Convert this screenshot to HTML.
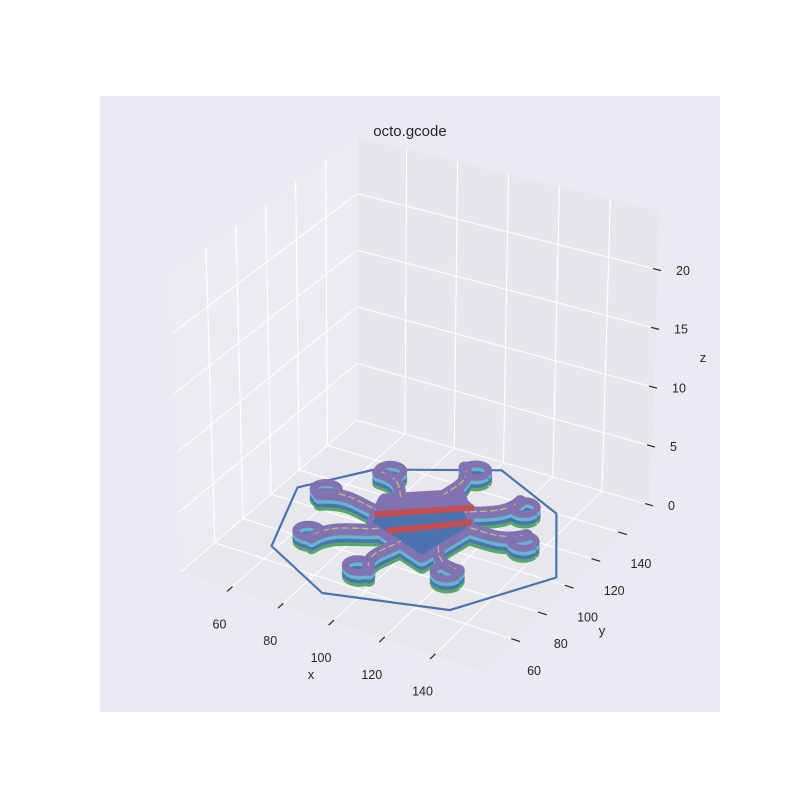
<!DOCTYPE html>
<html><head><meta charset="utf-8"><style>
html,body{margin:0;padding:0;background:#fff;}
svg{display:block;font-family:"Liberation Sans",sans-serif;}
</style></head><body>
<svg id="chart" width="800" height="800" viewBox="0 0 800 800" xmlns="http://www.w3.org/2000/svg">
<rect x="0" y="0" width="800" height="800" fill="#ffffff"/>
<rect x="100" y="96" width="620" height="616" fill="#eaeaf2"/>
<g id="panes"></g>
<g id="grid"></g>
<g id="ticks"></g>
<g id="model"></g>
<text x="410" y="136" font-size="15" text-anchor="middle" fill="#262626">octo.gcode</text>
<text x="311" y="679" font-size="13" text-anchor="middle" fill="#262626">x</text>
<text x="602" y="635" font-size="13" text-anchor="middle" fill="#262626">y</text>
<text x="703" y="362" font-size="13" text-anchor="middle" fill="#262626">z</text>
</svg>
<script>
// ---- data ----
const xTicks = [60, 80, 100, 120, 140];
const yTicks = [60, 80, 100, 120, 140];
const zTicks = [0, 5, 10, 15, 20];
const xRange = [40.5, 159.5];
const yRange = [36, 161];
const zRange = [0, 25];
// skirt outline (mm)
const skirtX = [58, 88, 131, 153, 133, 102, 63, 46];
const skirtY = [69, 51, 65, 103, 140, 156, 134, 109];
// tentacle curl centers (mm)
const curlX = [71.8, 97.6, 124.5, 135, 121.5, 93.4, 67.6, 58.7];
const curlY = [129.7, 145, 131.7, 111.6, 80, 67.5, 78.7, 107];
// body outline (mm)
const bodyX = [80, 101, 114, 109, 84];
const bodyY = [111, 127, 110, 85, 95];
// layer heights (mm) and colours
const layerZ = [0, 0.3, 0.6, 0.9];
const layerColor = ['#55a868', '#4c72b0', '#64b5cd', '#8172b2'];
// red stripes on body top (mm)
const stripeX0 = [81.8, 91], stripeY0 = [100, 92.5], stripeX1 = [109.5, 113.6], stripeY1 = [122, 113];

// ---- projection ----
const FL=[181,572], FF=[483,672], FR=[650,505], FB=[357,420];
const TL=[170,274], TF=[485,358], TR=[660,211], TB=[357,137];
function bil(c00,c10,c11,c01,u,v){
  return [c00[0]*(1-u)*(1-v)+c10[0]*u*(1-v)+c11[0]*u*v+c01[0]*(1-u)*v,
          c00[1]*(1-u)*(1-v)+c10[1]*u*(1-v)+c11[1]*u*v+c01[1]*(1-u)*v];
}
function P(x,y,z){
  const u=(x-xRange[0])/(xRange[1]-xRange[0]);
  const v=(y-yRange[0])/(yRange[1]-yRange[0]);
  const w=(z-zRange[0])/(zRange[1]-zRange[0]);
  const a=bil(FL,FF,FR,FB,u,v), b=bil(TL,TF,TR,TB,u,v);
  return [a[0]+(b[0]-a[0])*w, a[1]+(b[1]-a[1])*w];
}
const NS='http://www.w3.org/2000/svg';
function mk(tag, parent, attrs){
  const e=document.createElementNS(NS,tag);
  for(const k in attrs) e.setAttribute(k, attrs[k]);
  parent.appendChild(e); return e;
}
function pts(arr){return arr.map(p=>p[0].toFixed(1)+','+p[1].toFixed(1)).join(' ');}
const X0=xRange[0],X1=xRange[1],Y0=yRange[0],Y1=yRange[1],Z0=zRange[0],Z1=zRange[1];

// panes
const panes=document.getElementById('panes');
let e;
e=mk('polygon',panes,{points:pts([P(X0,Y0,Z0),P(X0,Y1,Z0),P(X0,Y1,Z1),P(X0,Y0,Z1)]),fill:'#ececf0'});


e=mk('polygon',panes,{points:pts([P(X0,Y1,Z0),P(X1,Y1,Z0),P(X1,Y1,Z1),P(X0,Y1,Z1)]),fill:'#e6e6eb'});


e=mk('polygon',panes,{points:pts([P(X0,Y0,Z0),P(X1,Y0,Z0),P(X1,Y1,Z0),P(X0,Y1,Z0)]),fill:'#e8e8ec'});



// grid
const grid=document.getElementById('grid');
function gl(a,b,name){
  const l=mk('line',grid,{x1:a[0],y1:a[1],x2:b[0],y2:b[1],stroke:'#ffffff','stroke-width':1.1});
  
  
}
xTicks.forEach(x=>{gl(P(x,Y0,Z0),P(x,Y1,Z0),'floor-gridline-x');gl(P(x,Y1,Z0),P(x,Y1,Z1),'back-gridline-x');});
yTicks.forEach(y=>{gl(P(X0,y,Z0),P(X1,y,Z0),'floor-gridline-y');gl(P(X0,y,Z0),P(X0,y,Z1),'left-gridline-y');});
zTicks.forEach(z=>{gl(P(X0,Y0,z),P(X0,Y1,z),'left-gridline-z');gl(P(X0,Y1,z),P(X1,Y1,z),'back-gridline-z');});

// ticks
const tk=document.getElementById('ticks');
function tl(a,b,name){
  const l=mk('line',tk,{x1:a[0],y1:a[1],x2:b[0],y2:b[1],stroke:'#262626','stroke-width':1.2});
  
  
}
function tt(x,y,s,name,anchor){
  const t=mk('text',tk,{x:x,y:y,'font-size':12.5,fill:'#262626','text-anchor':anchor||'middle'});
  t.textContent=s;
  
  
}
xTicks.forEach(x=>{
  const c=P(x,Y0,Z0);
  tl(P(x,Y0+1.5,Z0),P(x,Y0-2.5,Z0),'x-tick');
  tt(c[0]-11,c[1]+40,String(x),'x-tick-label');
});
yTicks.forEach(y=>{
  const c=P(X1,y,Z0);
  tl(P(X1-1.5,y,Z0),P(X1+2,y,Z0),'y-tick');
  tt(c[0]+19,c[1]+35,String(y),'y-tick-label');
});
zTicks.forEach(z=>{
  const c=P(X1,Y1,z);
  tl(P(X1-2,Y1,z),P(X1+1.2,Y1,z),'z-tick');
  tt(c[0]+18,c[1]+5,String(z),'z-tick-label','start');
});

// model
const model=document.getElementById('model');
const cx=98, cy=104;
function tentPath(i,z){
  const sx=cx+(curlX[i]-cx)*0.2, sy=cy+(curlY[i]-cy)*0.2;
  const dx0=curlX[i]-sx, dy0=curlY[i]-sy, L=Math.hypot(dx0,dy0);
  const nx=-dy0/L, ny=dx0/L;
  const ex=curlX[i]+nx*4.5, ey=curlY[i]+ny*4.5;
  const c1x=sx+dx0*0.35+nx*7, c1y=sy+dy0*0.35+ny*7;
  const c2x=sx+dx0*0.65-nx*6, c2y=sy+dy0*0.65-ny*6;
  const a=P(sx,sy,z), q1=P(c1x,c1y,z), q2=P(c2x,c2y,z), b=P(ex,ey,z);
  const f=p=>p[0].toFixed(1)+','+p[1].toFixed(1);
  return 'M'+f(a)+' C'+f(q1)+' '+f(q2)+' '+f(b);
}
function ring(i,z,r){
  const p=[];
  for(let k=0;k<=24;k++){const t=k/24*2*Math.PI;p.push(P(curlX[i]+r*Math.cos(t),curlY[i]+r*Math.sin(t),z));}
  return p;
}
// skirt
e=mk('polygon',model,{points:pts(skirtX.map((x,i)=>P(x,skirtY[i],0))),fill:'none',stroke:'#4c72b0','stroke-width':2.2,'stroke-linejoin':'round'});



layerZ.forEach((z,li)=>{
  const g=mk('g',model,{});
  
  
  const col=layerColor[li];
  curlX.forEach((_,i)=>{
    const p=mk('path',g,{d:tentPath(i,z),fill:'none',stroke:col,'stroke-width':12,'stroke-linecap':'round'});
    
    
    const r=mk('polyline',g,{points:pts(ring(i,z,4.6)),fill:'none',stroke:col,'stroke-width':7});
    
    
  });
  const b=mk('polygon',g,{points:pts(bodyX.map((x,i)=>P(x,bodyY[i],z))),fill:col,stroke:col,'stroke-width':14,'stroke-linejoin':'round'});
  
  
});
// top details
const zt=layerZ[layerZ.length-1]+0.1;
curlX.forEach((_,i)=>{
  const p=mk('path',model,{d:tentPath(i,zt),fill:'none',stroke:'#ccb974','stroke-width':1.3,'stroke-dasharray':'7 3'});
  
  
  const r=mk('polyline',model,{points:pts(ring(i,zt,4.6)),fill:'none',stroke:'#8172b2','stroke-width':3.5});
  
  
});
e=mk('polygon',model,{points:pts(bodyX.map((x,i)=>P(x,bodyY[i],zt))),fill:'#4c72b0'});


e=mk('polygon',model,{points:pts([P(bodyX[0],bodyY[0],zt),P(bodyX[1],bodyY[1],zt),P(stripeX1[0],stripeY1[0],zt),P(stripeX0[0],stripeY0[0],zt)]),fill:'#8172b2',stroke:'#8172b2','stroke-width':3,'stroke-linejoin':'round'});


stripeX0.forEach((x,i)=>{
  const a=P(x,stripeY0[i],zt), b=P(stripeX1[i],stripeY1[i],zt);
  const l=mk('line',model,{x1:a[0],y1:a[1],x2:b[0],y2:b[1],stroke:'#c44e52','stroke-width':6});
  
  
});
</script>
</body></html>
